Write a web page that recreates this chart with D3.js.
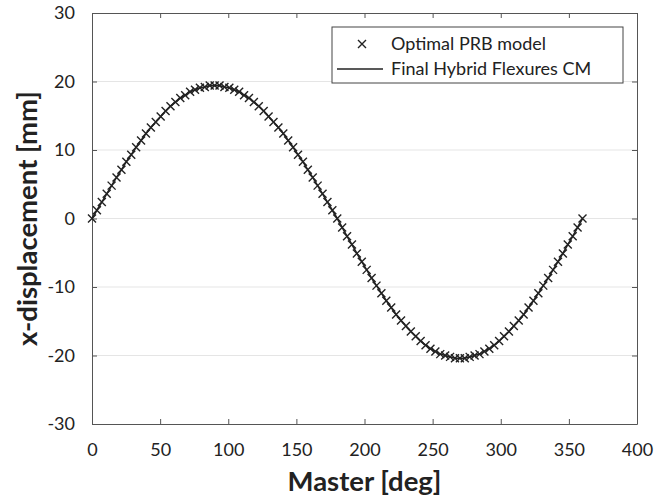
<!DOCTYPE html>
<html><head><meta charset="utf-8">
<script src="https://cdn.jsdelivr.net/npm/d3@7"></script>
<style>body{margin:0;background:#fff}svg{display:block}text{font-family:Lato,"Open Sans",sans-serif}</style>
</head><body><svg id="c" width="656" height="500"></svg>
<script>
const masterDeg = [0,3.6,7.2,10.8,14.4,18,21.6,25.2,28.8,32.4,36,39.6,43.2,46.8,50.4,54,57.6,61.2,64.8,68.4,72,75.6,79.2,82.8,86.4,90,
93.6,97.2,100.8,104.4,108,111.6,115.2,118.8,122.4,126,129.6,133.2,136.8,140.4,144,147.6,151.2,154.8,158.4,162,165.6,169.2,172.8,176.4,180,
183.6,187.2,190.8,194.4,198,201.6,205.2,208.8,212.4,216,219.6,223.2,226.8,230.4,234,237.6,241.2,244.8,248.4,252,255.6,259.2,262.8,266.4,270,
273.6,277.2,280.8,284.4,288,291.6,295.2,298.8,302.4,306,309.6,313.2,316.8,320.4,324,327.6,331.2,334.8,338.4,342,345.6,349.2,352.8,356.4,360];
const prbValues = [0,1.2,2.4,3.6,4.8,6.0,7.1,8.3,9.3,10.4,11.4,12.4,13.3,14.1,14.9,15.7,16.4,17.0,17.6,18.0,18.5,18.8,19.1,19.2,19.4,19.4,
19.4,19.2,19.1,18.8,18.5,18.0,17.6,17.0,16.4,15.7,14.9,14.1,13.3,12.4,11.4,10.4,9.3,8.3,7.1,6.0,4.8,3.6,2.4,1.2,0,
-1.3,-2.6,-3.8,-5.1,-6.3,-7.5,-8.7,-9.8,-10.9,-12.0,-13.0,-14.0,-14.9,-15.7,-16.5,-17.2,-17.9,-18.5,-19.0,-19.4,-19.8,-20.0,-20.2,-20.4,-20.4,
-20.4,-20.2,-20.0,-19.8,-19.4,-19.0,-18.5,-17.9,-17.2,-16.5,-15.7,-14.9,-14.0,-13.0,-12.0,-10.9,-9.8,-8.7,-7.5,-6.3,-5.1,-3.8,-2.6,-1.3,0];
const cmValues = prbValues.slice();
const xTicks = [0,50,100,150,200,250,300,350,400];
const yTicks = [-30,-20,-10,0,10,20,30];
const legendLabels = ["Optimal PRB model","Final Hybrid Flexures CM"];

const svg = d3.select("#c");
const L=92,R=637,T=13,B=424;
const x = d3.scaleLinear().domain([0,400]).range([L,R]);
const y = d3.scaleLinear().domain([-30,30]).range([B,T]);
const axisCol="#555";
const fmt = d => String(d);

// grid
svg.append("g").selectAll("line").data(yTicks.filter(v=>v>-30&&v<30)).join("line")
 .attr("x1",L).attr("x2",R).attr("y1",d=>y(d)).attr("y2",d=>y(d))
 .attr("stroke","#e5e5e5").attr("stroke-width",1);

function styleAxis(g){g.selectAll("path").attr("stroke",axisCol);g.selectAll("line").attr("stroke",axisCol);}
const gx = svg.append("g").attr("transform",`translate(0,${B})`)
 .call(d3.axisBottom(x).tickValues(xTicks).tickFormat(fmt).tickSizeInner(-5).tickSizeOuter(0).tickPadding(19));
const gy = svg.append("g").attr("transform",`translate(${L},0)`)
 .call(d3.axisLeft(y).tickValues(yTicks).tickFormat(fmt).tickSizeInner(-5).tickSizeOuter(0).tickPadding(17));
const gt = svg.append("g").attr("transform",`translate(0,${T})`)
 .call(d3.axisTop(x).tickValues(xTicks).tickSizeInner(-5).tickSizeOuter(0).tickFormat(""));
const gr = svg.append("g").attr("transform",`translate(${R},0)`)
 .call(d3.axisRight(y).tickValues(yTicks).tickSizeInner(-5).tickSizeOuter(0).tickFormat(""));
[gx,gy,gt,gr].forEach(styleAxis);
[gx,gy].forEach(g=>g.selectAll("text").attr("font-size",18).attr("fill","#222").style("font-family","Lato,'Open Sans',sans-serif"));

// line
const line = d3.line().x((d,i)=>x(masterDeg[i])).y(d=>y(d));
svg.append("path").datum(cmValues).attr("d",line).attr("fill","none").attr("stroke","#222").attr("stroke-width",1.6);

// markers
const s=4;
const mk = svg.append("g").attr("stroke","#222").attr("stroke-width",1.4);
prbValues.forEach((v,i)=>{
  const cx=x(masterDeg[i]), cy=y(v);
  mk.append("path").attr("d",`M${cx-s},${cy-s}L${cx+s},${cy+s}M${cx-s},${cy+s}L${cx+s},${cy-s}`);
});

// axis titles
svg.append("text").attr("x",(L+R)/2).attr("y",491).attr("text-anchor","middle")
 .attr("font-size",27.5).attr("font-weight","bold").attr("fill","#222").text("Master [deg]");
svg.append("text").attr("transform",`translate(37,${(T+B)/2}) rotate(-90)`).attr("text-anchor","middle")
 .attr("font-size",27.5).attr("font-weight","bold").attr("fill","#222").text("x-displacement [mm]");

// legend
const lg = svg.append("g");
lg.append("rect").attr("x",332).attr("y",27).attr("width",291).attr("height",56)
 .attr("fill","#fff").attr("stroke","#444").attr("stroke-width",1);
const lx=362, ly1=44, ly2=69;
lg.append("path").attr("d",`M${lx-s},${ly1-s}L${lx+s},${ly1+s}M${lx-s},${ly1+s}L${lx+s},${ly1-s}`).attr("stroke","#222").attr("stroke-width",1.4);
lg.append("line").attr("x1",337).attr("x2",383).attr("y1",ly2).attr("y2",ly2).attr("stroke","#222").attr("stroke-width",1.6);
lg.selectAll("text.l").data(legendLabels).join("text").attr("class","l")
 .attr("x",391).attr("y",(d,i)=>i?ly2:ly1).attr("dy","0.35em").attr("font-size",18).attr("fill","#222").text(d=>d);
</script></body></html>
